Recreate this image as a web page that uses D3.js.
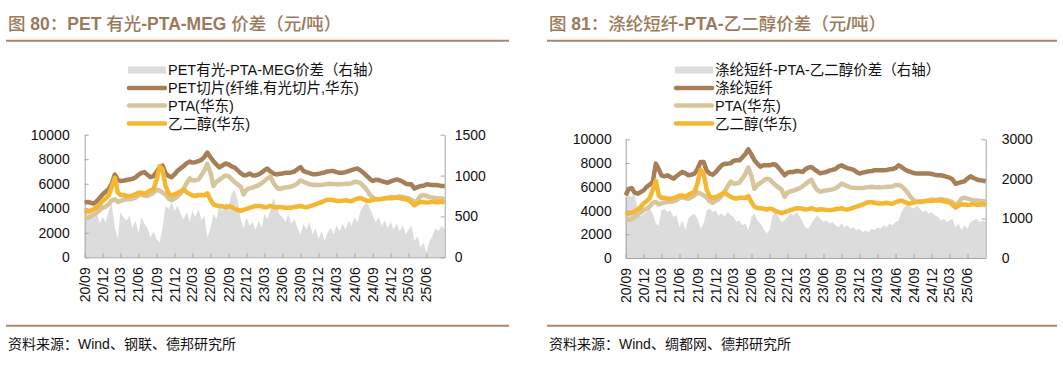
<!DOCTYPE html>
<html><head><meta charset="utf-8">
<script src="https://cdn.jsdelivr.net/npm/d3@7"></script>
<style>
body{margin:0;background:#fff;}
svg text{font-family:"Liberation Sans","Noto Sans CJK SC",sans-serif;}
</style></head><body>
<svg id="c" width="1063" height="367"></svg>
<script>
// ---------- data ----------
const tickLabels = ["20/09","20/12","21/03","21/06","21/09","21/12","22/03","22/06","22/09","22/12",
  "23/03","23/06","23/09","23/12","24/03","24/06","24/09","24/12","25/03","25/06"];
// semi-monthly observations, 2020-09-01 .. 2025-09-01 (121 points)
const obsCount = 121;

const ptaEast = [3300,3220,3300,3460,3650,3840,4050,4140,4320,4650,
  4730,4510,4600,4680,4730,4730,4780,4870,5050,5110,
  5030,5000,5140,5270,5510,5430,5270,5110,4780,4650,
  4810,4950,5240,5600,6080,6430,6270,6270,6350,6680,
  7080,7620,6890,5810,6160,6320,6510,6680,6620,6380,
  6140,5950,5760,5140,5510,5620,5680,5780,5890,6050,
  6220,6410,6600,6080,5730,5570,5650,5700,5730,5780,
  5860,6030,6270,6160,6050,5950,5920,5890,5890,5890,
  5950,5970,6000,5970,5950,5950,5970,6000,6000,6030,
  6160,6140,6050,5810,5510,5140,4870,4730,4730,4760,
  4810,4870,4920,4890,4890,4970,4920,4870,4810,4700,
  4490,4650,5000,5080,5000,4920,4870,4840,4810,4810,
  4730];

const megEast = [3650,3760,3810,3920,4080,4300,4600,4780,5050,5730,
  6500,5270,5080,5080,5000,5000,5030,5140,5270,5270,
  5160,5320,5460,5540,6350,7430,7160,5810,5190,5050,
  5140,5240,5380,5540,5300,5160,5050,5000,5080,5080,
  5050,5220,4700,4320,4220,4190,4160,4080,4160,4110,
  3950,3870,3780,3870,3950,4030,4110,4190,4190,4160,
  4080,4110,4190,4110,4050,4110,4080,4050,4050,4050,
  4110,4140,4190,4110,4080,4160,4240,4320,4410,4490,
  4620,4700,4700,4650,4600,4600,4620,4650,4600,4570,
  4700,4780,4840,4730,4620,4600,4680,4730,4730,4760,
  4810,4810,4810,4840,4870,4840,4780,4730,4680,4490,
  4240,4410,4510,4510,4460,4490,4540,4490,4490,4540,
  4460];

const petChip = [4460,4510,4450,4380,4570,4840,5135,5350,5570,6000,
  6750,6320,6216,6240,6300,6350,6400,6510,6730,6890,
  6950,6730,6540,6620,6970,7380,7490,6870,6620,6540,
  6760,7060,7270,7430,7680,7810,7730,7760,7840,7950,
  8190,8540,8160,7840,7570,7330,7490,7650,7570,7410,
  7320,7110,6870,6700,6700,6840,6680,6680,6760,6920,
  7080,7240,7000,6840,6760,6810,6840,6890,6890,6920,
  7000,7190,7350,7030,6950,6870,6780,6780,6810,6870,
  6920,7000,7030,7030,6950,6890,6890,6950,7030,7110,
  7190,7240,7080,6890,6650,6410,6220,6320,6300,6220,
  6140,6080,6190,6270,6350,6270,6160,6000,5950,5950,
  5600,5730,5810,5840,5950,5920,5890,5890,5870,5810,
  5810];

const petSpread = [590,510,610,470,550,410,490,430,570,650,
  360,240,550,490,450,510,360,450,300,490,
  410,360,240,320,220,180,360,630,590,670,
  570,630,530,470,550,430,570,490,590,450,
  510,240,360,530,470,650,570,670,630,770,
  830,710,470,360,490,390,430,340,450,360,
  530,470,570,730,630,530,490,430,530,410,
  470,360,280,410,340,430,280,360,220,320,
  200,300,360,280,390,320,410,340,450,390,
  490,430,570,630,670,610,510,430,490,390,
  450,360,430,340,410,320,390,280,340,390,
  200,260,120,180,60,200,260,360,320,390,
  340];

const psfPrice = [5280,5790,5900,5510,5420,5560,5700,5980,6180,6400,
  7950,7470,6970,6880,6970,6830,6690,6880,7080,7250,
  7130,6970,7020,7110,7530,8090,8090,7390,7110,7020,
  7220,7530,7810,7950,7950,7980,8170,8230,8230,8480,
  8760,9160,8710,8230,7950,7700,7810,7810,7810,7890,
  7870,7610,7300,6970,7190,7250,7250,7330,7300,7250,
  7470,7610,7670,7470,7300,7130,7190,7250,7360,7420,
  7500,7700,7810,7670,7580,7500,7420,7250,7110,7190,
  7250,7300,7330,7390,7390,7390,7390,7420,7470,7500,
  7580,7810,7670,7470,7330,7250,7160,7110,7110,7110,
  7110,7110,7080,7020,6970,6970,6910,6830,6770,6630,
  6260,6320,6400,6460,6690,6880,6740,6630,6550,6520,
  6460];

const psfSpread = [1500,1580,1540,1630,1200,1040,1120,1160,1250,1120,
  870,830,1200,1250,1160,1200,1040,1080,780,950,
  700,990,1080,1120,990,740,870,1200,1250,1160,
  1200,1080,1120,1040,1160,1080,1040,910,950,830,
  870,700,1040,1120,950,870,740,620,700,1080,
  1160,1040,910,950,1040,1120,1080,1160,1040,910,
  780,740,870,990,1080,990,910,950,870,910,
  830,780,870,780,830,740,780,700,740,660,
  700,660,740,700,780,740,830,780,870,830,
  910,950,1160,1290,1370,1290,1250,1330,1250,1160,
  1200,1120,1160,1080,1040,950,990,910,950,990,
  780,870,700,830,740,910,950,990,910,950,
  910];

const leftTicksA = [0,2000,4000,6000,8000,10000];
const rightTicksA = [0,500,1000,1500];
const rightTicksB = [0,1000,2000,3000];

// ---------- helpers ----------
const dates = d3.range(obsCount).map(i => new Date(2020, 8 + Math.floor(i/2), i % 2 ? 16 : 1));
const parseTick = d3.timeParse("%y/%m");
const tickDates = tickLabels.map(parseTick);

const C = {brown:"#a67f58", tan:"#d7c59d", gold:"#f5b632", gray:"#dcdcdc",
  axis:"#a6a6a6", title:"#9c7a5c", rule:"#a8866a", text:"#111"};

const svg = d3.select("#c");
svg.append("rect").attr("width",1063).attr("height",367).attr("fill","#fff");

function mixedText(sel, str, boldAscii){
  const runs = str.match(/[\x00-\x7F]+|[^\x00-\x7F]+/g);
  runs.forEach(r=>{
    const ascii = /^[\x00-\x7F]+$/.test(r);
    sel.append("tspan").attr("font-weight", ascii && boldAscii ? "bold" : (boldAscii ? "500":"normal")).text(r);
  });
}

function panel(cfg){
  const g = svg.append("g");
  const t = g.append("text").attr("x",cfg.tx).attr("y",30).attr("font-size",17.5)
    .attr("fill",C.title);
  mixedText(t, cfg.title, true);
  g.append("line").attr("x1",cfg.rx0).attr("x2",cfg.rx1).attr("y1",40.8).attr("y2",40.8)
    .attr("stroke",C.rule).attr("stroke-width",2);
  g.append("line").attr("x1",cfg.rx0).attr("x2",cfg.rx1).attr("y1",325.8).attr("y2",325.8)
    .attr("stroke",C.rule).attr("stroke-width",2);
  const s = g.append("text").attr("x",cfg.tx).attr("y",349).attr("font-size",14).attr("fill",C.text);
  mixedText(s, cfg.source, false);

  const x = d3.scaleTime().domain([dates[0], dates[dates.length-1]]).range([cfg.x0, cfg.x1]);
  const yL = d3.scaleLinear().domain([0,10000]).range([cfg.yB, cfg.yT]);
  const yR = d3.scaleLinear().domain([0,cfg.rMax]).range([cfg.yB, cfg.yT]);

  g.append("path").datum(cfg.spread)
    .attr("fill",C.gray)
    .attr("d", d3.area().x((d,i)=>x(dates[i])).y0(yR(0)).y1(d=>yR(d)));

  const fmt = d3.format("d");
  const axL = g.append("g").attr("transform",`translate(${cfg.x0},0)`)
    .call(d3.axisLeft(yL).tickValues(leftTicksA).tickFormat(fmt).tickSizeInner(-4).tickSizeOuter(0).tickPadding(cfg.lPad));
  const axR = g.append("g").attr("transform",`translate(${cfg.x1},0)`)
    .call(d3.axisRight(yR).tickValues(cfg.rTicks).tickFormat(fmt).tickSizeInner(-4).tickSizeOuter(0).tickPadding(cfg.rPad));
  const axB = g.append("g").attr("transform",`translate(0,${cfg.yB})`)
    .call(d3.axisBottom(x).tickValues(tickDates).tickFormat("").tickSizeInner(-4).tickSizeOuter(0));
  [axL,axR,axB].forEach(a=>{
    a.selectAll("path,line").attr("stroke",C.axis);
    a.selectAll("text").attr("font-size",14).attr("fill",C.text)
      .attr("font-family",'"Liberation Sans",sans-serif');
  });
  g.append("g").selectAll("text").data(tickDates).join("text")
    .attr("transform",d=>`translate(${x(d)},${cfg.yB+10}) rotate(-90)`)
    .attr("text-anchor","end").attr("dy","0.35em").attr("font-size",14).attr("fill",C.text)
    .text((d,i)=>tickLabels[i]);

  const line = d3.line().x((d,i)=>x(dates[i])).y(d=>yL(d));
  [[cfg.main,C.brown],[ptaEast,C.tan],[megEast,C.gold]].forEach(([arr,col])=>{
    g.append("path").datum(arr).attr("fill","none").attr("stroke",col)
      .attr("stroke-width",4.5).attr("stroke-linejoin","round").attr("d",line);
  });

  const lg = g.append("g");
  const items = [
    {t:cfg.legend[0], c:C.gray, area:true},
    {t:cfg.legend[1], c:C.brown},
    {t:cfg.legend[2], c:C.tan},
    {t:cfg.legend[3], c:C.gold}];
  const ly = [70, 88, 105.5, 123.5];
  items.forEach((it,i)=>{
    if(it.area){
      lg.append("rect").attr("x",cfg.lx).attr("y",ly[i]-3.5).attr("width",38).attr("height",7).attr("fill",it.c);
    } else {
      lg.append("line").attr("x1",cfg.lx+1).attr("x2",cfg.lx+37).attr("y1",ly[i]).attr("y2",ly[i])
        .attr("stroke",it.c).attr("stroke-width",4.5).attr("stroke-linecap","round");
    }
    lg.append("text").attr("x",cfg.lx+40).attr("y",ly[i]).attr("dy","0.35em")
      .attr("font-size",14.5).attr("fill",C.text).text(it.t);
  });
}

panel({
  title:"图 80：PET 有光-PTA-MEG 价差（元/吨）",
  source:"资料来源：Wind、钢联、德邦研究所",
  tx:8, rx0:6, rx1:509,
  x0:84.7, x1:444.7, yT:134.7, yB:257.3,
  rMax:1500, rTicks:rightTicksA, lPad:15, rPad:10,
  spread:petSpread, main:petChip, lx:128,
  legend:["PET有光-PTA-MEG价差（右轴）","PET切片(纤维,有光切片,华东)","PTA(华东)","乙二醇(华东)"]
});
panel({
  title:"图 81：涤纶短纤-PTA-乙二醇价差（元/吨）",
  source:"资料来源：Wind、绸都网、德邦研究所",
  tx:549, rx0:547, rx1:1057,
  x0:625.7, x1:985.7, yT:139.3, yB:258,
  rMax:3000, rTicks:rightTicksB, lPad:14, rPad:16,
  spread:psfSpread, main:psfPrice, lx:675,
  legend:["涤纶短纤-PTA-乙二醇价差（右轴）","涤纶短纤","PTA(华东)","乙二醇(华东)"]
});
</script>
</body></html>
